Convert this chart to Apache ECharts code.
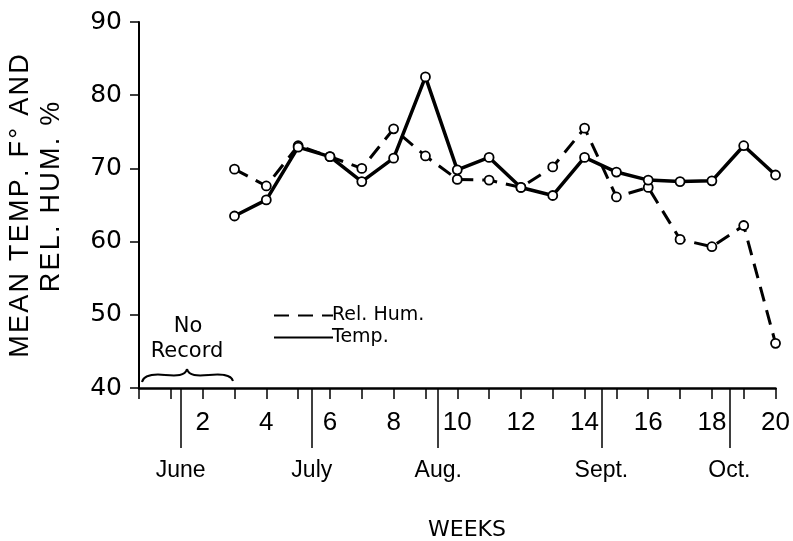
<!DOCTYPE html>
<html><head><meta charset="utf-8">
<script src="https://cdn.jsdelivr.net/npm/echarts@6/dist/echarts.min.js"></script>
<style>html,body{margin:0;padding:0;background:#fff}#c{width:793px;height:541px}</style>
</head><body><div id="c"></div>
<script>
const weeks = [3,4,5,6,7,8,9,10,11,12,13,14,15,16,17,18,19,20];
const temp = [63.5,65.7,72.9,71.6,68.2,71.4,82.5,69.8,71.5,67.4,66.3,71.5,69.5,68.4,68.2,68.3,73.1,69.1];
const relHum = [69.9,67.6,73.1,71.6,70.0,75.4,71.7,68.5,68.4,67.4,70.2,75.5,66.1,67.4,60.3,59.3,62.2,46.1];
const monthPos = [1.3,5.4,9.35,14.45,18.45];
const monthNames = ['June','July','Aug.','Sept.','Oct.'];
const yTicks = [40,50,60,70,80,90];

const F = 'Liberation Sans, Arial, sans-serif';
const FD = 'DejaVu Sans, Liberation Sans, sans-serif';
const FN = 'Liberation Sans Narrow, Liberation Sans, Arial, sans-serif';
const track = (s, sp) => s.split('').join(sp);
const chart = echarts.init(document.getElementById('c'), null, {renderer:'canvas'});
const gridPos = {left:139, right:14, top:22, bottom:153};
const bz = (x1,y1,cx1,cy1,cx2,cy2,x2,y2) => ({type:'bezierCurve', shape:{x1,y1,x2,y2,cpx1:cx1,cpy1:cy1,cpx2:cx2,cpy2:cy2}, style:{fill:'none', stroke:'#000', lineWidth:2}});
const option = {
  backgroundColor:'#fff',
  animation:false,
  grid:[Object.assign({},gridPos), Object.assign({},gridPos)],
  xAxis:[{
    type:'value', gridIndex:0, min:0, max:20, interval:1,
    axisLine:{show:true, lineStyle:{color:'#000', width:2.5}},
    axisTick:{show:true, length:11, lineStyle:{color:'#000', width:1.5}},
    splitLine:{show:false},
    axisLabel:{color:'#000', fontFamily:FN, fontSize:26, margin:22,
      formatter:v => (v>0 && v%2===0) ? String(v) : ''}
  },{
    type:'value', gridIndex:1, min:0, max:20, position:'bottom',
    axisLine:{show:false},
    axisTick:{show:true, length:60, customValues:monthPos, lineStyle:{color:'#000', width:1.5}},
    splitLine:{show:false},
    axisLabel:{show:true, customValues:monthPos, color:'#000', fontFamily:F, fontSize:23, margin:71,
      formatter:(v,i) => { const k = monthPos.indexOf(v); return k>=0 ? monthNames[k] : ''; }}
  }],
  yAxis:[{
    type:'value', gridIndex:0, min:40, max:90, interval:10,
    axisLine:{show:true, lineStyle:{color:'#000', width:2}},
    axisTick:{show:true, length:9, lineStyle:{color:'#000', width:1.5}},
    splitLine:{show:false},
    axisLabel:{color:'#000', fontFamily:FD, fontSize:25, margin:17}
  },{
    type:'value', gridIndex:1, min:40, max:90, show:false
  }],
  legend:{
    orient:'vertical', left:268, top:301, itemWidth:59, itemHeight:16, itemGap:3,
    textStyle:{color:'#000', fontFamily:FD, fontSize:19, padding:[0,0,0,-6]},
    itemStyle:{opacity:0},
    data:['Rel. Hum.','Temp.']
  },
  series:[{
    name:'Rel. Hum.', type:'line', xAxisIndex:0, yAxisIndex:0,
    data: weeks.map((w,i)=>[w, relHum[i]]),
    symbol:'circle', symbolSize:9,
    itemStyle:{color:'#fff', borderColor:'#000', borderWidth:1.8},
    lineStyle:{color:'#000', width:3, type:[15,9]},
    z:3
  },{
    name:'Temp.', type:'line', xAxisIndex:0, yAxisIndex:0,
    data: weeks.map((w,i)=>[w, temp[i]]),
    symbol:'circle', symbolSize:9,
    itemStyle:{color:'#fff', borderColor:'#000', borderWidth:1.8},
    lineStyle:{color:'#000', width:3.5},
    z:4
  }],
  graphic:[
    {type:'text', x:21, y:206, rotation:Math.PI/2, style:{text:track('MEAN TEMP. F° AND','\u200A'), fill:'#000', font:'27px '+F, textAlign:'center', textVerticalAlign:'middle'}},
    {type:'text', x:52, y:197, rotation:Math.PI/2, style:{text:track('REL. HUM. %','\u200A'), fill:'#000', font:'27px '+F, textAlign:'center', textVerticalAlign:'middle'}},
    {type:'text', x:467, y:530, style:{text:'WEEKS', fill:'#000', font:'22px '+FD, textAlign:'center', textVerticalAlign:'middle'}},
    {type:'text', x:188, y:327, style:{text:'No', fill:'#000', font:'21px '+FD, textAlign:'center', textVerticalAlign:'middle'}},
    {type:'text', x:187, y:352, style:{text:'Record', fill:'#000', font:'21px '+FD, textAlign:'center', textVerticalAlign:'middle'}},
    bz(142,382,144,374,155,374,165,375),
    bz(165,375,177,376,185,376,187,369),
    bz(187,369,189,376,197,376,209,375),
    bz(209,375,220,374,231,374,233,381)
  ]
};
chart.setOption(option);
</script></body></html>
